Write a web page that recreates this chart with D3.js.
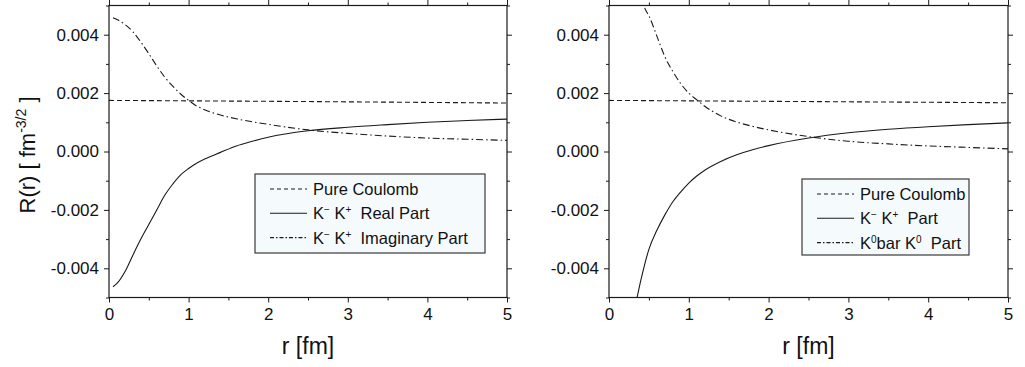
<!DOCTYPE html>
<html>
<head>
<meta charset="utf-8">
<script src="https://cdn.jsdelivr.net/npm/d3@7"></script>
<style>
  body { margin: 0; background: #fff; }
  text { font-family: "Liberation Sans", Arial, sans-serif; fill: #111; }
</style>
</head>
<body>
<svg id="chart"></svg>
<script>
// r grid and curves, left panel (K- K+ real / imaginary)
const coulombR = [0, 2.5, 5];
const leftCoulomb = [0.00175, 0.00171, 0.00166];
const leftR = [0.05, 0.1, 0.2, 0.3, 0.4, 0.5, 0.6, 0.7, 0.8, 0.9, 1.0, 1.1, 1.2, 1.4, 1.6, 1.8, 2.0, 2.5, 3.0, 3.5, 4.0, 4.5, 5.0];
const leftReal = [-0.00463, -0.00452, -0.00412, -0.00355, -0.00300, -0.00250, -0.00200, -0.00150, -0.00112, -0.00080, -0.00058, -0.00040, -0.00026, -0.00003, 0.00019, 0.00035, 0.00049, 0.00071, 0.00083, 0.00092, 0.00100, 0.00106, 0.00111];
const leftImag = [0.00458, 0.00452, 0.00435, 0.00410, 0.00375, 0.00335, 0.00293, 0.00255, 0.00224, 0.00197, 0.00175, 0.00156, 0.00143, 0.00125, 0.00112, 0.00102, 0.00093, 0.00074, 0.00062, 0.00053, 0.00046, 0.00042, 0.00038];

// right panel (K- K+ part / K0bar K0 part)
const rightCoulomb = [0.00175, 0.00171, 0.00167];
const rightRealR = [0.3, 0.4, 0.5, 0.6, 0.7, 0.8, 0.9, 1.0, 1.1, 1.2, 1.4, 1.6, 1.8, 2.0, 2.5, 3.0, 3.5, 4.0, 4.5, 5.0];
const rightReal = [-0.0057, -0.0044, -0.00335, -0.00270, -0.00217, -0.00172, -0.00138, -0.00108, -0.00084, -0.00064, -0.00034, -0.00011, 0.00006, 0.00020, 0.00046, 0.00064, 0.00076, 0.00085, 0.00092, 0.00098];
const rightImagR = [0.4, 0.45, 0.5, 0.6, 0.7, 0.8, 0.9, 1.0, 1.1, 1.2, 1.4, 1.6, 1.8, 2.0, 2.5, 3.0, 3.5, 4.0, 4.5, 5.0];
const rightImag = [0.0054, 0.0049, 0.00465, 0.00395, 0.00325, 0.00274, 0.00232, 0.00200, 0.00177, 0.00155, 0.00122, 0.00101, 0.00086, 0.00074, 0.00051, 0.00035, 0.00026, 0.00019, 0.00014, 0.00009];

const xMajor = [0, 1, 2, 3, 4, 5];
const xMinor = [0.5, 1.5, 2.5, 3.5, 4.5];
const yMajor = [-0.004, -0.002, 0, 0.002, 0.004];
const yMinor = [-0.005, -0.003, -0.001, 0.001, 0.003, 0.005];

const W = 1025, H = 367;
const svg = d3.select('#chart').attr('width', W).attr('height', H);

const plotTop = 5.5, plotBottom = 297.5;
const ink = '#1a1a1a';

function panel(id, x0, x1, series, legend) {
  const x = d3.scaleLinear().domain([0, 5]).range([x0, x1]);
  const y = d3.scaleLinear().domain([-0.005, 0.005]).range([plotBottom, plotTop]);
  const g = svg.append('g');

  svg.append('clipPath').attr('id', id)
    .append('rect').attr('x', x0).attr('y', plotTop).attr('width', x1 - x0).attr('height', plotBottom - plotTop);

  const line = d3.line().x(d => x(d[0])).y(d => y(d[1])).curve(d3.curveMonotoneX);
  const curves = g.append('g').attr('clip-path', `url(#${id})`);
  series.forEach(s => {
    curves.append('path')
      .datum(s.r.map((r, i) => [r, s.v[i]]))
      .attr('d', line)
      .attr('fill', 'none')
      .attr('stroke', ink)
      .attr('stroke-width', 1.1)
      .attr('stroke-dasharray', s.dash);
  });

  const fmt = d => d.toFixed(3);
  const style = sel => {
    sel.select('.domain').remove();
    sel.selectAll('.tick line').attr('stroke', ink).attr('stroke-width', 1);
    sel.selectAll('text').style('font-size', '17px').attr('fill', ink);
  };

  // major + minor ticks on all four sides, pointing outward
  g.append('g').attr('transform', `translate(0,${plotBottom})`)
    .call(d3.axisBottom(x).tickValues(xMajor).tickSize(5).tickPadding(5).tickFormat(d3.format('d'))).call(style);
  g.append('g').attr('transform', `translate(0,${plotBottom})`)
    .call(d3.axisBottom(x).tickValues(xMinor).tickSize(3).tickFormat('')).call(style);
  g.append('g').attr('transform', `translate(0,${plotTop})`)
    .call(d3.axisTop(x).tickValues(xMajor).tickSize(6).tickFormat('')).call(style);
  g.append('g').attr('transform', `translate(0,${plotTop})`)
    .call(d3.axisTop(x).tickValues(xMinor).tickSize(3).tickFormat('')).call(style);

  g.append('g').attr('transform', `translate(${x0},0)`)
    .call(d3.axisLeft(y).tickValues(yMajor).tickSize(5).tickPadding(5).tickFormat(fmt)).call(style);
  g.append('g').attr('transform', `translate(${x0},0)`)
    .call(d3.axisLeft(y).tickValues(yMinor).tickSize(3).tickFormat('')).call(style);
  g.append('g').attr('transform', `translate(${x1},0)`)
    .call(d3.axisRight(y).tickValues(yMajor).tickSize(5).tickFormat('')).call(style);
  g.append('g').attr('transform', `translate(${x1},0)`)
    .call(d3.axisRight(y).tickValues(yMinor).tickSize(3).tickFormat('')).call(style);

  g.append('rect')
    .attr('x', x0).attr('y', plotTop).attr('width', x1 - x0).attr('height', plotBottom - plotTop)
    .attr('fill', 'none').attr('stroke', ink).attr('stroke-width', 1.2);

  g.append('text')
    .attr('x', (x0 + x1) / 2).attr('y', 354)
    .attr('text-anchor', 'middle')
    .style('font-size', '23px')
    .text('r [fm]');

  // legend
  const lg = g.append('g');
  lg.append('rect')
    .attr('x', legend.x).attr('y', legend.y).attr('width', legend.w).attr('height', legend.h)
    .attr('fill', '#f5fbfd').attr('stroke', '#3a3a3a').attr('stroke-width', 1.2);
  legend.rows.forEach((row, i) => {
    const cy = legend.y + 15 + i * 24.3;
    lg.append('line')
      .attr('x1', legend.x + 15).attr('x2', legend.x + 52)
      .attr('y1', cy).attr('y2', cy)
      .attr('stroke', ink).attr('stroke-width', 1.1)
      .attr('stroke-dasharray', row.dash);
    const t = lg.append('text')
      .attr('x', legend.x + 58).attr('y', cy + 6)
      .style('font-size', '16.5px');
    let raised = false;
    row.parts.forEach(p => {
      if (p.sup) {
        t.append('tspan').attr('dy', raised ? 0 : -6).style('font-size', '10px').text(p.sup);
        raised = true;
      } else {
        t.append('tspan').attr('dy', raised ? 6 : 0).text(p.t);
        raised = false;
      }
    });
  });
}

panel('clipL', 109, 507, [
  { r: coulombR, v: leftCoulomb, dash: '5,3' },
  { r: leftR, v: leftReal, dash: null },
  { r: leftR, v: leftImag, dash: '7,3,1.5,3' }
], {
  x: 255, y: 174, w: 230, h: 79,
  rows: [
    { dash: '4,3', parts: [{ t: 'Pure Coulomb' }] },
    { dash: null, parts: [{ t: 'K' }, { sup: '\u2212' }, { t: ' K' }, { sup: '+' }, { t: '\u00a0 Real Part' }] },
    { dash: '4,2,1.5,2', parts: [{ t: 'K' }, { sup: '\u2212' }, { t: ' K' }, { sup: '+' }, { t: '\u00a0 Imaginary Part' }] }
  ]
});

panel('clipR', 609, 1008, [
  { r: coulombR, v: rightCoulomb, dash: '5,3' },
  { r: rightRealR, v: rightReal, dash: null },
  { r: rightImagR, v: rightImag, dash: '7,3,1.5,3' }
], {
  x: 802, y: 179, w: 167, h: 76,
  rows: [
    { dash: '4,3', parts: [{ t: 'Pure Coulomb' }] },
    { dash: null, parts: [{ t: 'K' }, { sup: '\u2212' }, { t: ' K' }, { sup: '+' }, { t: '\u00a0 Part' }] },
    { dash: '4,2,1.5,2', parts: [{ t: 'K' }, { sup: '0' }, { t: 'bar K' }, { sup: '0' }, { t: '\u00a0 Part' }] }
  ]
});

// y title (left panel only)
const yt = svg.append('text')
  .attr('transform', 'translate(35,155) rotate(-90)')
  .attr('text-anchor', 'middle')
  .style('font-size', '22px');
yt.append('tspan').text('R(r) [ fm');
yt.append('tspan').attr('dy', -9).style('font-size', '14px').text('-3/2');
yt.append('tspan').attr('dy', 9).text(' ]');
</script>
</body>
</html>
